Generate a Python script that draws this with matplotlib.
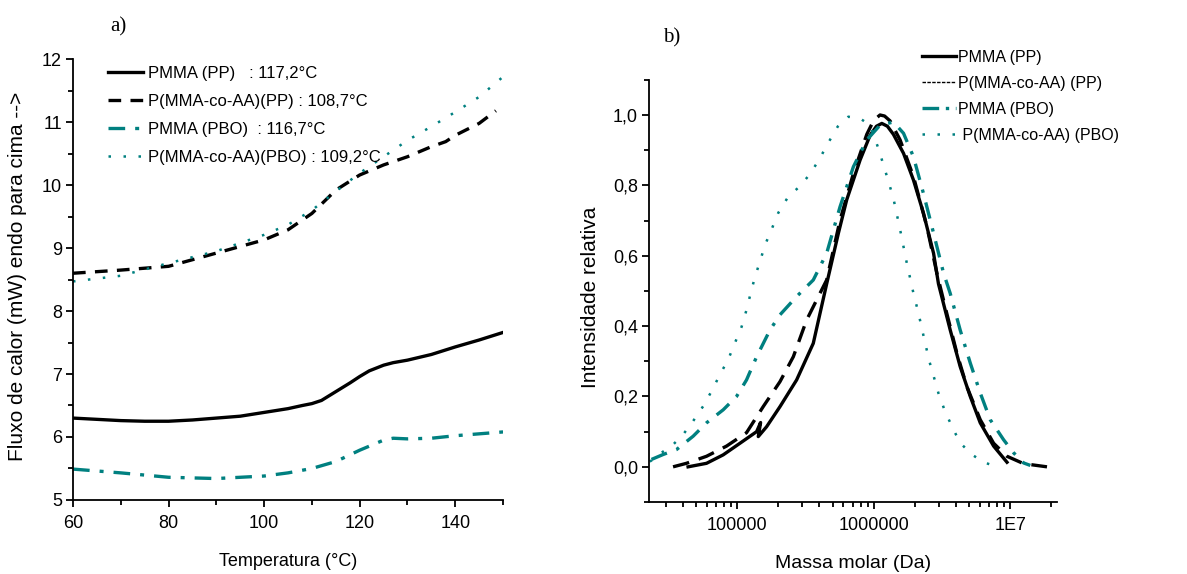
import numpy as np
import matplotlib
matplotlib.use("Agg")
import matplotlib.pyplot as plt
from matplotlib.lines import Line2D
from matplotlib.ticker import MultipleLocator, FuncFormatter, LogLocator, NullFormatter

plt.rcParams['font.family'] = ['Liberation Sans', 'DejaVu Sans']
serif = ['Liberation Serif', 'DejaVu Serif']
teal = '#008080'

# a) DSC curves
T_pp = [60, 65, 70, 75, 80, 85, 90, 95, 100, 105, 108, 110, 112, 115, 118, 120, 122, 125,
        127, 130, 135, 140, 145, 150]
fluxo_pmma_pp = [6.30, 6.28, 6.26, 6.25, 6.25, 6.27, 6.30, 6.33, 6.39, 6.45, 6.50, 6.53, 6.58,
                 6.72, 6.86, 6.96, 7.05, 7.14, 7.18, 7.22, 7.31, 7.43, 7.54, 7.66]

T_co_pp = [60, 70, 80, 90, 100, 105, 110, 115, 120, 125, 130, 135, 138, 140, 145, 148.5]
fluxo_co_pp = [8.60, 8.65, 8.71, 8.92, 9.13, 9.29, 9.55, 9.92, 10.16, 10.32, 10.45, 10.61, 10.69,
               10.79, 10.98, 11.18]

T_pbo = [60, 70, 80, 90, 100, 105, 110, 115, 120, 125, 127, 130, 135, 140, 145, 150]
fluxo_pmma_pbo = [5.49, 5.43, 5.36, 5.34, 5.38, 5.43, 5.50, 5.61, 5.79, 5.95, 5.98, 5.97, 5.98,
                  6.02, 6.05, 6.08]

T_co_pbo = [60, 70, 80, 90, 100, 105, 110, 115, 120, 125, 130, 135, 140, 145, 150]
fluxo_co_pbo = [8.47, 8.56, 8.76, 8.95, 9.21, 9.37, 9.60, 9.90, 10.19, 10.45, 10.71, 10.93, 11.16,
                11.40, 11.72]

labels_a = ['PMMA (PP)   : 117,2°C', 'P(MMA-co-AA)(PP) : 108,7°C',
            'PMMA (PBO)  : 116,7°C', 'P(MMA-co-AA)(PBO) : 109,2°C']

# b) GPC curves
M_pmma_pp = [43650, 59570, 78890, 104700, 138700, 148300, 142600, 164100, 205600, 272300,
             360600, 451900, 550800, 633900, 794300, 939700, 1047000, 1146000, 1259000, 1393000,
             1652000, 1954000, 2312000, 2742000, 2979000, 3631000, 4295000, 5093000, 6026000,
             7551000, 9462000]
I_pmma_pp = [0.0, 0.01, 0.034, 0.067, 0.10, 0.126, 0.086, 0.114, 0.171, 0.247,
             0.351, 0.52, 0.664, 0.759, 0.872, 0.942, 0.968, 0.976, 0.968, 0.945,
             0.891, 0.815, 0.721, 0.607, 0.52, 0.389, 0.285, 0.20, 0.125,
             0.059, 0.013]

M_co_pp = [33880, 42460, 59570, 83560, 116950, 154900, 205600, 257600, 322100, 403600,
           451900, 566200, 709600, 889200, 1000000, 1112000, 1200000, 1318000, 1560000, 1954000,
           2449000, 2897000, 3428000, 4064000, 4808000, 6026000, 7551000, 9462000, 12530000,
           18580000]
I_co_pp = [0.0, 0.01, 0.03, 0.059, 0.097, 0.171, 0.242, 0.313, 0.417, 0.493,
           0.531, 0.701, 0.834, 0.945, 0.985, 1.0, 0.997, 0.983, 0.929, 0.825,
           0.683, 0.551, 0.436, 0.323, 0.228, 0.134, 0.067, 0.03, 0.009,
           0.0]

M_pmma_pbo = [23550, 28640, 35890, 47530, 59570, 78890, 98850, 116950, 138700, 173800,
              205600, 272300, 360600, 451900, 566200, 709600, 889200, 1112000, 1393000,
              1652000, 1954000, 2312000, 2742000, 3243000, 3631000, 4295000, 5093000,
              6026000, 7129000, 8933000, 10570000, 12530000, 14030000]
I_pmma_pbo = [0.021, 0.035, 0.049, 0.087, 0.125, 0.162, 0.20, 0.247, 0.313, 0.389,
              0.432, 0.484, 0.531, 0.607, 0.739, 0.853, 0.929, 0.971, 0.98,
              0.948, 0.881, 0.777, 0.664, 0.551, 0.493, 0.389, 0.295,
              0.21, 0.134, 0.077, 0.04, 0.011, 0.004]

M_co_pbo = [22900, 25100, 27860, 33880, 40180, 47530, 56230, 64860, 74650, 85900, 96160,
            107650, 116950, 125300, 134900, 146600, 159600, 178600, 200000, 236600,
            285100, 341200, 399000, 464500, 544500, 651600, 794300, 939700, 1081000,
            1178000, 1282000, 1393000, 1560000, 1746000, 1954000, 2128000, 2249000,
            2382000, 2559000, 2773000, 2979000, 3296000, 3733000, 4295000, 5236000,
            6368000, 7762000]
I_co_pbo = [0.015, 0.025, 0.04, 0.063, 0.092, 0.13, 0.172, 0.215, 0.262, 0.305, 0.352,
            0.398, 0.446, 0.493, 0.54, 0.583, 0.63, 0.675, 0.722, 0.768,
            0.796, 0.832, 0.874, 0.921, 0.967, 0.995, 0.99, 0.971, 0.905,
            0.858, 0.811, 0.763, 0.674, 0.579, 0.493, 0.436, 0.394,
            0.351, 0.299, 0.252, 0.209, 0.162, 0.115, 0.068, 0.035,
            0.013, 0.002]

labels_b = ['PMMA (PP)', 'P(MMA-co-AA) (PP)', 'PMMA (PBO)', ' P(MMA-co-AA) (PBO)']

fig = plt.figure(figsize=(11.87, 5.74), dpi=100)


def style_axes(ax):
    for s in ['top', 'right']:
        ax.spines[s].set_visible(False)
    for s in ['left', 'bottom']:
        ax.spines[s].set_linewidth(1.3)
    ax.tick_params(axis='both', which='both', direction='out', width=1.3, labelsize=13)
    ax.tick_params(axis='both', which='major', length=5)
    ax.tick_params(axis='both', which='minor', length=3.5)
    ax.tick_params(axis='x', which='major', pad=6)
    ax.tick_params(axis='y', which='major', pad=3)


# ---------- a)
ax1 = fig.add_axes([0.0615, 0.129, 0.3623, 0.768])
ax1.plot(T_pp, fluxo_pmma_pp, '-', color='black', lw=2.4, label=labels_a[0])
ax1.plot(T_co_pp, fluxo_co_pp, color='black', lw=2.4, ls=(0, (3.8, 2.8)), label=labels_a[1])
ax1.plot(T_pbo, fluxo_pmma_pbo, color=teal, lw=2.4, ls=(0, (5, 3, 1.2, 3)), label=labels_a[2])
ax1.plot(T_co_pbo, fluxo_co_pbo, color=teal, lw=1.8, ls=(0, (1, 5)), label=labels_a[3])
ax1.set_xlim(60, 150)
ax1.set_ylim(5, 12)
ax1.xaxis.set_major_locator(MultipleLocator(20))
ax1.xaxis.set_minor_locator(MultipleLocator(10))
ax1.yaxis.set_major_locator(MultipleLocator(1))
ax1.yaxis.set_minor_locator(MultipleLocator(0.5))
style_axes(ax1)
ax1.set_xlabel('Temperatura (°C)', fontsize=13, va='center')
ax1.xaxis.set_label_coords(0.5, -0.1406)
ax1.set_ylabel('Fluxo de calor (mW) endo para cima -->', fontsize=15, va='center')
ax1.yaxis.set_label_coords(-0.128, 0.508)
ax1.legend(loc='upper left', bbox_to_anchor=(0.091, 0.885), bbox_transform=fig.transFigure,
           frameon=False, fontsize=12, handlelength=2.1, handletextpad=0.3,
           labelspacing=0.77, borderaxespad=0, borderpad=0)

# ---------- b)
ax2 = fig.add_axes([0.5468, 0.1254, 0.3437, 0.7356])
ax2.plot(M_pmma_pp, I_pmma_pp, '-', color='black', lw=2.4)
ax2.plot(M_co_pp, I_co_pp, color='black', lw=2.4, ls=(0, (5, 3)))
ax2.plot(M_pmma_pbo, I_pmma_pbo, color=teal, lw=2.4, ls=(0, (5, 3, 1, 3)))
ax2.plot(M_co_pbo, I_co_pbo, color=teal, lw=1.8, ls=(0, (1, 5)))
ax2.set_xscale('log')
ax2.set_xlim(22600, 2.2e7)
ax2.set_ylim(-0.1, 1.1)
ax2.xaxis.set_major_locator(LogLocator(base=10))
ax2.xaxis.set_minor_locator(LogLocator(base=10, subs=np.arange(2, 10)))
ax2.xaxis.set_minor_formatter(NullFormatter())
ax2.xaxis.set_major_formatter(FuncFormatter(lambda v, p: '1E7' if v >= 1e7 else '%d' % v))
ax2.yaxis.set_major_locator(MultipleLocator(0.2))
ax2.yaxis.set_minor_locator(MultipleLocator(0.1))
ax2.yaxis.set_major_formatter(FuncFormatter(lambda v, p: ('%.1f' % v).replace('.', ',')))
style_axes(ax2)
ax2.set_xlabel('Massa molar (Da)', fontsize=14, va='center')
ax2.xaxis.set_label_coords(0.5, -0.1445)
ax2.set_ylabel('Intensidade relativa', fontsize=15, va='center')
ax2.yaxis.set_label_coords(-0.1446, 0.486)

handles_b = [Line2D([], [], color='black', lw=2.4),
             Line2D([], [], color='black', lw=1.0, ls=(0, (2.5, 1))),
             Line2D([], [], color=teal, lw=2.4, ls=(0, (5, 2, 1, 2))),
             Line2D([], [], color=teal, lw=1.8, ls=(0, (1, 5)))]
ax2.legend(handles_b, labels_b, loc='upper left', bbox_to_anchor=(0.777, 0.913),
           bbox_transform=fig.transFigure, frameon=False, fontsize=11.5, handlelength=2.1,
           handletextpad=0.15, labelspacing=0.68, borderaxespad=0, borderpad=0)

fig.text(0.0994, 0.953, 'a)', family=serif, fontsize=15, ha='center', va='center')
fig.text(0.566, 0.934, 'b)', family=serif, fontsize=15, ha='center', va='center')

fig.savefig('out.png', dpi=100)
